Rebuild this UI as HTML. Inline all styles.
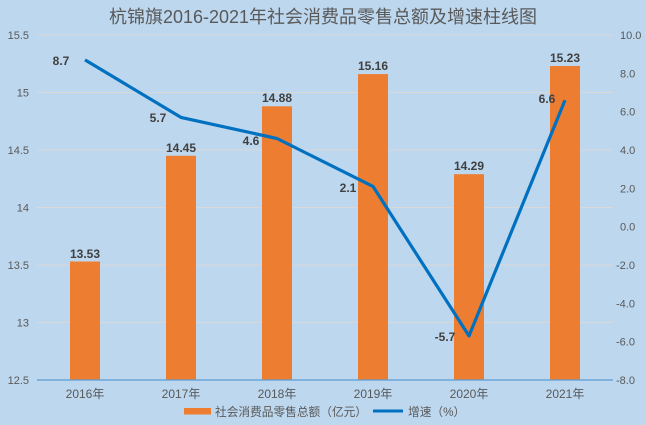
<!DOCTYPE html>
<html><head><meta charset="utf-8"><style>
html,body{margin:0;padding:0;background:#BDD7EE;}
svg{display:block;}
text{font-family:"Liberation Sans","Noto Sans CJK SC",sans-serif;}
</style></head><body>
<svg width="645" height="425" viewBox="0 0 645 425" xmlns="http://www.w3.org/2000/svg">
<rect x="0" y="0" width="645" height="425" fill="#BDD7EE"/>
<text x="323" y="23" text-anchor="middle" font-size="18" fill="#595959">杭锦旗2016-2021年社会消费品零售总额及增速柱线图</text>
<g stroke="#D9D9D9" stroke-width="1">
<line x1="37" x2="613" y1="35" y2="35"/>
<line x1="37" x2="613" y1="92.5" y2="92.5"/>
<line x1="37" x2="613" y1="150" y2="150"/>
<line x1="37" x2="613" y1="207.5" y2="207.5"/>
<line x1="37" x2="613" y1="265" y2="265"/>
<line x1="37" x2="613" y1="322.5" y2="322.5"/>
</g>
<g font-size="11" fill="#595959" text-anchor="end">
<text x="29" y="39">15.5</text>
<text x="29" y="96.5">15</text>
<text x="29" y="154">14.5</text>
<text x="29" y="211.5">14</text>
<text x="29" y="269">13.5</text>
<text x="29" y="326.5">13</text>
<text x="29" y="384">12.5</text>
</g>
<g font-size="11" fill="#595959" text-anchor="start">
<text x="620" y="39">10.0</text>
<text x="620" y="77.3">8.0</text>
<text x="620" y="115.7">6.0</text>
<text x="620" y="154">4.0</text>
<text x="620" y="192.3">2.0</text>
<text x="620" y="230.7">0.0</text>
<text x="616" y="269">-2.0</text>
<text x="616" y="307.3">-4.0</text>
<text x="616" y="345.7">-6.0</text>
<text x="616" y="384">-8.0</text>
</g>
<g fill="#ED7D31">
<rect x="70" y="261.5" width="30" height="118.5"/>
<rect x="166" y="155.8" width="30" height="224.2"/>
<rect x="262" y="106.3" width="30" height="273.7"/>
<rect x="358" y="74.1" width="30" height="305.9"/>
<rect x="454" y="174.2" width="30" height="205.8"/>
<rect x="550" y="66" width="30" height="314"/>
</g>
<line x1="37" x2="613" y1="380" y2="380" stroke="#5B9BD5" stroke-width="1.2"/>
<polyline points="85,59.9 181,117.4 277,138.5 373,186.4 469,335.9 565,100.2" fill="none" stroke="#0070C0" stroke-width="3.2" stroke-linejoin="round"/>
<g font-size="12" font-weight="bold" fill="#404040" text-anchor="middle">
<text x="85" y="258">13.53</text>
<text x="181" y="152">14.45</text>
<text x="277" y="102">14.88</text>
<text x="373" y="70">15.16</text>
<text x="469" y="170">14.29</text>
<text x="565" y="62">15.23</text>
<text x="61" y="65">8.7</text>
<text x="158" y="122">5.7</text>
<text x="251" y="145">4.6</text>
<text x="348" y="192">2.1</text>
<text x="445" y="341">-5.7</text>
<text x="547" y="103">6.6</text>
</g>
<g font-size="12" fill="#595959" text-anchor="middle">
<text x="85" y="398">2016年</text>
<text x="181" y="398">2017年</text>
<text x="277" y="398">2018年</text>
<text x="373" y="398">2019年</text>
<text x="469" y="398">2020年</text>
<text x="565" y="398">2021年</text>
</g>
<rect x="184" y="408" width="27" height="6.5" fill="#ED7D31"/>
<text x="215" y="416" font-size="11.7" fill="#595959">社会消费品零售总额（亿元）</text>
<line x1="373" x2="403" y1="411" y2="411" stroke="#0070C0" stroke-width="3"/>
<text x="408" y="416" font-size="11.7" fill="#595959">增速（%）</text>
</svg>
</body></html>
